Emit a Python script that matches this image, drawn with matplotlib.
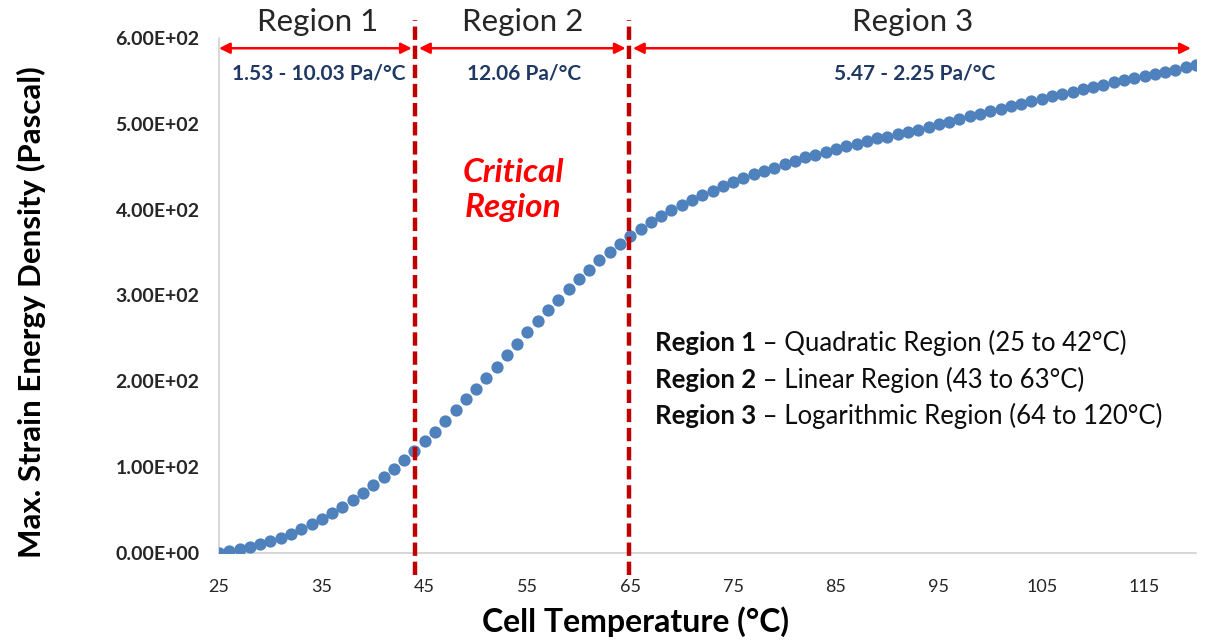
import numpy as np
import matplotlib
matplotlib.use('Agg')
import matplotlib.pyplot as plt

plt.rcParams['font.family'] = ['Lato', 'DejaVu Sans']

# temperatures (degC) and max strain energy density (Pa)
temperatura = list(range(25, 121))
energia = [
    # region 1 (25-44)
    0.5, 2.5, 5, 7.5, 10.5, 14, 18, 22.5, 28, 33.5,
    39.5, 46, 54, 62, 70, 79, 88, 98, 108, 119,
    # region 2 (45-65)
    130, 141, 154, 166, 179, 191, 204, 217, 231, 244,
    257, 270, 283, 295, 307, 319, 330, 341, 351, 360, 369,
    # region 3 (66-120)
    377, 385, 392, 399, 405, 411, 417, 422, 427, 432,
    437, 441, 445, 449, 453, 457, 461, 464, 467, 471,
    474, 477, 480, 483, 485, 488, 491, 493, 496.2, 499.4,
    502.5, 505.6, 508.6, 511.7, 514.7, 517.6, 520.6, 523.5, 526.4, 529.2,
    532.0, 534.8, 537.5, 540.2, 542.9, 545.6, 548.2, 550.8, 553.3, 555.8,
    558.3, 560.8, 563.2, 565.6, 568.0,
]

regiones = ['Region 1', 'Region 2', 'Region 3']
pendientes = ['1.53 - 10.03 Pa/°C', '12.06 Pa/°C', '5.47 - 2.25 Pa/°C']
limites = [25, 44.1, 64.9, 120]
leyenda_negrita = ['Region 1', 'Region 2', 'Region 3']
leyenda_texto = [' – Quadratic Region (25 to 42°C)',
                 ' – Linear Region (43 to 63°C)',
                 ' – Logarithmic Region (64 to 120°C)']
xticks = [25, 35, 45, 55, 65, 75, 85, 95, 105, 115]
yticks = [0, 100, 200, 300, 400, 500, 600]

fig = plt.figure(figsize=(12.07, 6.43), dpi=100)
ax = fig.add_axes([0.1814, 0.140, 0.8095, 0.801])

ax.scatter(temperatura, energia, s=78, color='#4f81bd', zorder=3, linewidths=0)

ax.set_xlim(25, 120)
ax.set_ylim(0, 600)
ax.set_xticks(xticks)
ax.set_yticks(yticks)
ax.set_yticklabels([f'{v:.2E}' for v in yticks], fontweight='bold', fontsize=14)
ax.set_xticklabels([str(v) for v in xticks], fontsize=13)
ax.tick_params(length=0, colors='#262626')
ax.tick_params(axis='y', pad=14)
ax.tick_params(axis='x', pad=19)
for s in ['top', 'right']:
    ax.spines[s].set_visible(False)
for s in ['left', 'bottom']:
    ax.spines[s].set_color('#d0d0d0')
    ax.spines[s].set_linewidth(1.2)

ax.set_xlabel('Cell Temperature (°C)', fontsize=23, fontweight='bold')
ax.set_ylabel('Max. Strain Energy Density (Pascal)', fontsize=22.5, fontweight='bold')
ax.xaxis.set_label_coords(0.426, -0.103)
ax.yaxis.set_label_coords(-0.177, 0.468)

# region boundaries
for xb in limites[1:3]:
    ax.axvline(xb, ymin=-0.043, ymax=1.035, color='#c00000', lw=3.2,
               dashes=(3.0, 1.3), clip_on=False, zorder=4)

# region arrows, titles and slopes
for i in range(3):
    x0 = limites[i] + (0 if i == 0 else 0.35)
    x1 = limites[i + 1] - (0.35 if i < 2 else 0.5)
    ax.annotate('', xy=(x1, 588), xytext=(x0, 588), annotation_clip=False,
                arrowprops=dict(arrowstyle='<|-|>', color='#ff0000', lw=1.8,
                                mutation_scale=16, shrinkA=0, shrinkB=0))
    xc = (limites[i] + limites[i + 1]) / 2
    ax.text(xc, 619, regiones[i], ha='center', va='center', fontsize=22.5,
            color='#262626', clip_on=False)
    ax.text(xc + 0.2, 559, pendientes[i], ha='center', va='center', fontsize=15,
            fontweight='bold', color='#1f3864')

ax.text(53.6, 423, 'Critical\nRegion', ha='center', va='center', fontsize=24,
        fontweight='bold', style='italic', color='#ff0000', linespacing=1.25)

for j, yl in enumerate([245, 202, 160]):
    t = ax.text(67.4, yl, leyenda_negrita[j], ha='left', va='center', fontsize=18.5,
                fontweight='bold', color='#0d0d0d')
    ax.annotate(leyenda_texto[j], xy=(1, 0.5), xycoords=t, ha='left', va='center',
                fontsize=18.5, color='#0d0d0d')

fig.savefig('out.png', dpi=100)
